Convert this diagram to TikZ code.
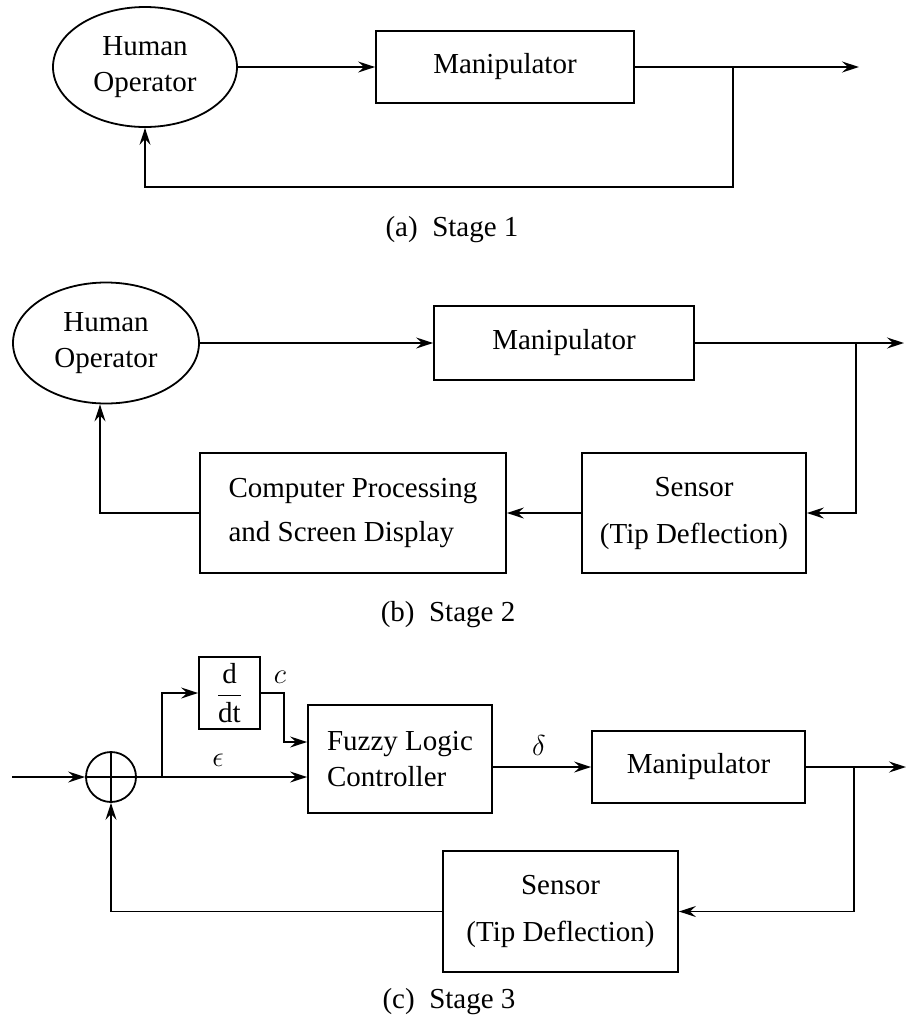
\documentclass[tikz,border=0pt]{standalone}
\usepackage{fontspec}
\setmainfont{Liberation Serif}
\usetikzlibrary{arrows.meta,positioning,shapes.geometric,calc}
\tikzset{
  >={Stealth[length=8.5pt,width=5.5pt,inset=3pt]},
  block/.style={draw,line width=0.9pt,inner sep=0pt,align=center,
    font=\fontsize{14.5}{18}\selectfont},
  person/.style={ellipse,draw,line width=0.9pt,inner sep=0pt,align=center,
    font=\fontsize{14.5}{18}\selectfont},
  flow/.style={->,line width=0.9pt},
  wire/.style={line width=0.9pt},
  tag/.style={font=\fontsize{14.5}{18}\selectfont},
  caption/.style={font=\fontsize{14.5}{18}\selectfont},
}
\begin{document}
\begin{tikzpicture}[x=0.5pt,y=-0.5pt]
  \useasboundingbox (0,0) rectangle (908,1030);

  % (a) stage 1
  \node[person,minimum width=92pt,minimum height=60pt] (op1) at (145,67) {Human\\Operator};
  \node[block,minimum width=129pt,minimum height=36pt] (man1) at (505,67) {Manipulator};
  \coordinate (br1) at (733,67);
  \coordinate (out1) at (859,67);
  \coordinate (lo1) at (733,187);
  \draw[flow] (op1.east |- man1.west) -- (man1.west);
  \draw[flow] (man1.east) -- (out1);
  \draw[flow] (br1) -- (lo1) -| (op1.south);
  \node[caption] (cap1) at (452,230) {(a)\ \ Stage 1};

  % (b) stage 2
  \node[person,minimum width=93pt,minimum height=60.5pt] (op2) at (106,343) {Human\\Operator};
  \node[block,minimum width=130pt,minimum height=37pt] (man2) at (564,343) {Manipulator};
  \node[block,minimum width=112pt,minimum height=60pt] (sen2) at (694,513) {Sensor\\[5.5pt](Tip Deflection)};
  \node[block,minimum width=153pt,minimum height=60pt,align=left] (comp2) at (353,513) {Computer Processing\\[4pt]and Screen Display};
  \coordinate (br2) at (856,343);
  \coordinate (out2) at (904,343);
  \draw[flow] (op2.east) -- (man2.west);
  \draw[flow] (man2.east) -- (out2);
  \draw[flow] (br2) |- (sen2.east);
  \draw[flow] (sen2.west) -- (comp2.east);
  \draw[flow] (comp2.west) -| ($(op2.south)+(-6,0)$);
  \node[caption] (cap2) at (448,615) {(b)\ \ Stage 2};

  % (c) stage 3
  \coordinate (in3) at (12,777);
  \node[circle,draw,line width=0.9pt,minimum size=25pt,inner sep=0pt] (sum) at (111,777) {};
  \draw[wire] (sum.north) -- (sum.south) (sum.west) -- (sum.east);
  \node[block,minimum width=92pt,minimum height=54pt,align=left] (flc) at (400,759) {Fuzzy Logic\\Controller};
  \node[block,minimum width=30.5pt,minimum height=36pt] (ddt) at (229.5,693) {$\displaystyle\frac{\mbox{d}}{\mbox{dt}}$};
  \node[block,minimum width=106.5pt,minimum height=36pt] (man3) at (698.5,767) {Manipulator};
  \node[block,minimum width=117.5pt,minimum height=60.5pt] (sen3) at (560.5,911.5) {Sensor\\[5.5pt](Tip Deflection)};
  \coordinate (br3) at (162,777);
  \coordinate (ck) at (284,742);
  \coordinate (br3b) at (854,767);
  \coordinate (out3) at (906,767);
  \draw[flow] (in3) -- (sum.west);
  \draw[flow] (sum.east) -- (sum.east -| flc.west);
  \draw[flow] (br3) |- (ddt.west);
  \draw[flow] (ddt.east) -| (ck) -- (ck -| flc.west);
  \draw[flow] (flc.east |- man3.west) -- (man3.west);
  \draw[flow] (man3.east) -- (out3);
  \draw[flow] (br3b) |- (sen3.east);
  \draw[flow] (sen3.west) -| (sum.south);
  \node[tag] (eps) at (218,760) {$\epsilon$};
  \node[tag] (cc) at (280,677) {$c$};
  \node[tag] (dl) at (539,745) {$\delta$};
  \node[caption] (cap3) at (449,1002) {(c)\ \ Stage 3};
\end{tikzpicture}
\end{document}
